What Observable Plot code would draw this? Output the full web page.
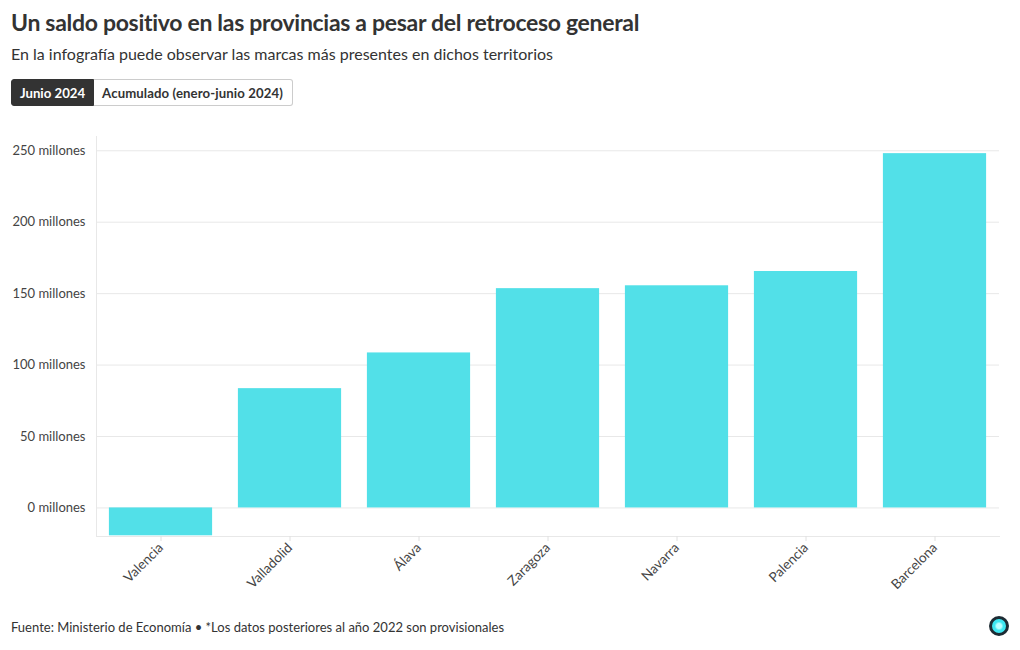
<!DOCTYPE html>
<html>
<head>
<meta charset="utf-8">
<script src="https://cdn.jsdelivr.net/npm/d3@7"></script>
<script src="https://cdn.jsdelivr.net/npm/@observablehq/plot@0.6"></script>
<style>
  body { margin: 0; background: #fff; font-family: Lato, "Noto Sans", sans-serif; color: #333; }
  #wrap { position: relative; width: 1020px; height: 650px; }
  h1 { position: absolute; left: 11px; top: 8px; margin: 0; font-size: 23px; font-weight: 700; color: #333; letter-spacing: -0.3px; white-space: nowrap; }
  .sub { position: absolute; left: 11px; top: 44px; margin: 0; font-size: 16px; color: #333; white-space: nowrap; }
  .btns { position: absolute; left: 11px; top: 79px; display: flex; }
  .btn { height: 27px; line-height: 27px; padding: 0 8px; font-size: 13.2px; font-weight: 700; border: 1px solid #ccc; box-sizing: border-box; }
  .btn.on { background: #333; color: #fff; border-color: #333; border-radius: 3px 0 0 3px; }
  .btn.off { background: #fff; color: #333; border-left: none; border-radius: 0 3px 3px 0; padding: 0 9px 0 8px; letter-spacing: 0.1px; }
  #chart { position: absolute; left: 0; top: 126px; }
  .foot { position: absolute; left: 11px; top: 619px; font-size: 13px; color: #333; white-space: nowrap; }
  .logo { position: absolute; left: 989px; top: 616px; width: 14px; height: 14px; border-radius: 50%; border: 3px solid #1d2b33; background: radial-gradient(circle, #bff 0 25%, #3ee6f0 45%); }
</style>
</head>
<body>
<div id="wrap">
  <h1>Un saldo positivo en las provincias a pesar del retroceso general</h1>
  <p class="sub">En la infografía puede observar las marcas más presentes en dichos territorios</p>
  <div class="btns"><div class="btn on">Junio 2024</div><div class="btn off">Acumulado (enero-junio 2024)</div></div>
  <div id="chart"></div>
  <div class="foot">Fuente: Ministerio de Economía • *Los datos posteriores al año 2022 son provisionales</div>
  <div class="logo"></div>
</div>
<script>
const provincias = ["Valencia", "Valladolid", "Álava", "Zaragoza", "Navarra", "Palencia", "Barcelona"];
const saldo = [-19.5, 83.5, 108.5, 153.5, 155.5, 165.5, 248];
const yTicks = [0, 50, 100, 150, 200, 250];

const data = provincias.map((p, i) => ({provincia: p, valor: saldo[i]}));

const chart = Plot.plot({
  width: 1020,
  height: 474,
  marginTop: 10,
  marginBottom: 64,
  marginLeft: 96,
  marginRight: 21,
  style: {fontFamily: "Lato, 'Noto Sans', sans-serif", fontSize: "13px", color: "#444"},
  x: {domain: provincias, paddingInner: 0.2, paddingOuter: 0.1, round: false, label: null},
  y: {domain: [-20, 260], label: null},
  marks: [
    Plot.gridY(yTicks, {stroke: "#e8e8e8", strokeOpacity: 1}),
    Plot.frame({anchor: "left", stroke: "#e8e8e8"}),
    Plot.frame({anchor: "bottom", stroke: "#e8e8e8"}),
    Plot.barY(data, {x: "provincia", y: "valor", fill: "#52e0e8"}),
    Plot.axisY(yTicks, {tickSize: 0, tickPadding: 11, tickFormat: d => `${d} millones`, fill: "#444"}),
    Plot.axisX({tickSize: 5, stroke: "#e0e0e0", tickRotate: -45, tickPadding: 4, fill: "#444", fontSize: "13.5px"})
  ]
});
document.getElementById("chart").appendChild(chart);
</script>
</body>
</html>
